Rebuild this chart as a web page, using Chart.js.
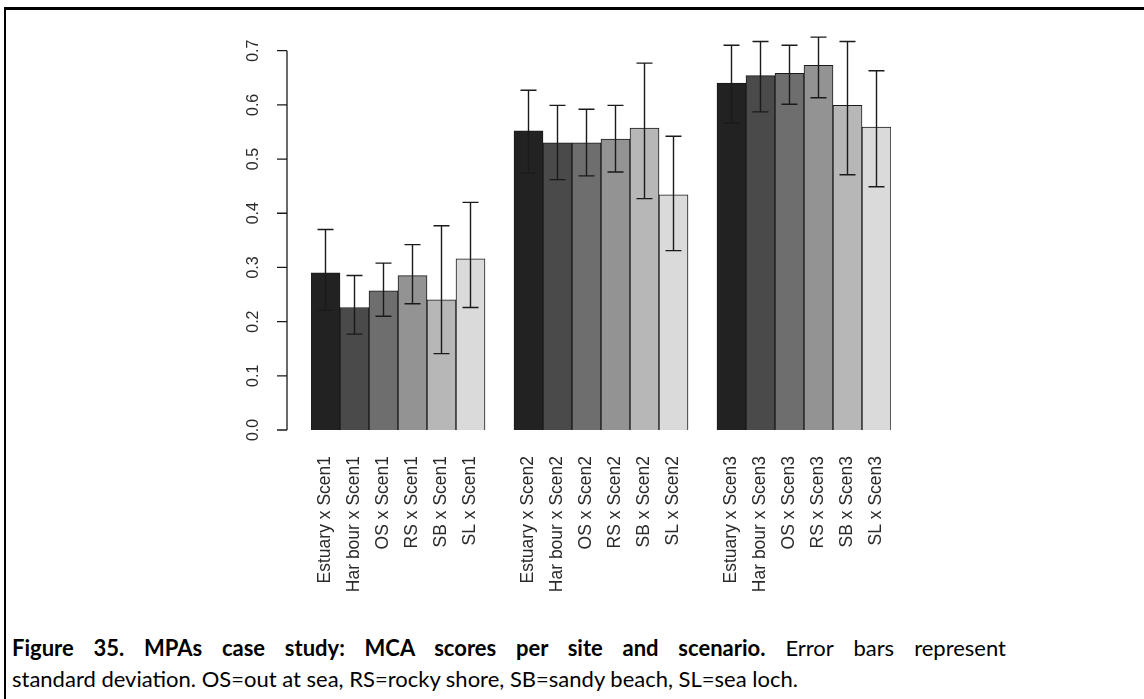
<!DOCTYPE html>
<html>
<head>
<meta charset="utf-8">
<script src="https://cdn.jsdelivr.net/npm/chart.js@4"></script>
<style>
  html, body { margin: 0; padding: 0; background: #fff; overflow: hidden; }
  body { width: 1144px; height: 699px; position: relative; }
  #topline { position: absolute; left: 4px; top: 7px; width: 1140px; height: 3px; background: #000; }
  #leftline { position: absolute; left: 4px; top: 7px; width: 2px; height: 692px; background: #000; }
  #wrap { position: absolute; left: 0; top: 0; width: 1144px; height: 620px; }
  #caption { position: absolute; left: 12px; top: 632px; width: 994px; font-family: Lato, "Open Sans", sans-serif;
             font-size: 22px; line-height: 31px; color: #000; }
  #line1 { text-align: justify; text-align-last: justify; white-space: nowrap; }
  #line2 { white-space: nowrap; }
</style>
</head>
<body>
<div id="topline"></div>
<div id="leftline"></div>
<div id="wrap"><canvas id="c" width="1144" height="620"></canvas></div>
<div id="caption">
  <div id="line1"><b>Figure 35. MPAs case study: MCA scores per site and scenario.</b> Error bars represent</div>
  <div id="line2">standard deviation. OS=out at sea, RS=rocky shore, SB=sandy beach, SL=sea loch.</div>
</div>
<script>
// sites and scenarios
const sites = ['Estuary', 'Har bour', 'OS', 'RS', 'SB', 'SL'];
const scenarios = ['Scen1', 'Scen2', 'Scen3'];

// mean MCA score per site, one array per scenario
const meanScen1 = [0.290, 0.226, 0.257, 0.285, 0.240, 0.316];
const meanScen2 = [0.552, 0.530, 0.530, 0.537, 0.557, 0.434];
const meanScen3 = [0.640, 0.654, 0.658, 0.673, 0.599, 0.559];

// error bar ends (mean - sd, mean + sd)
const lowScen1 = [0.221, 0.177, 0.210, 0.233, 0.141, 0.226];
const highScen1 = [0.370, 0.285, 0.308, 0.342, 0.377, 0.420];
const lowScen2 = [0.474, 0.462, 0.469, 0.476, 0.427, 0.331];
const highScen2 = [0.627, 0.599, 0.592, 0.599, 0.677, 0.542];
const lowScen3 = [0.566, 0.587, 0.601, 0.613, 0.471, 0.449];
const highScen3 = [0.710, 0.717, 0.710, 0.725, 0.717, 0.663];

const yTicks = [0, 0.1, 0.2, 0.3, 0.4, 0.5, 0.6, 0.7];

const greys = ['#222222', '#4a4a4a', '#6e6e6e', '#939393', '#b7b7b7', '#dadada'];

// flatten into one bar series, with an empty slot between scenarios
const means = [meanScen1, meanScen2, meanScen3];
const lows = [lowScen1, lowScen2, lowScen3];
const highs = [highScen1, highScen2, highScen3];
const labels = [], values = [], low = [], high = [], colors = [];
scenarios.forEach((s, g) => {
  if (g > 0) { labels.push(''); values.push(null); low.push(null); high.push(null); colors.push('#fff'); }
  sites.forEach((site, i) => {
    labels.push(site + ' x ' + s);
    values.push(means[g][i]);
    low.push(lows[g][i]);
    high.push(highs[g][i]);
    colors.push(greys[i]);
  });
});

const FONT = '"Liberation Sans", Arial, sans-serif';

// error bars with caps
const errorBars = {
  id: 'errorBars',
  afterDatasetsDraw(chart) {
    const ctx = chart.ctx, x = chart.scales.x, y = chart.scales.y;
    ctx.save();
    ctx.strokeStyle = '#1a1a1a';
    ctx.lineWidth = 1.4;
    low.forEach((lo, i) => {
      if (lo == null) return;
      const px = x.getPixelForValue(i);
      const y1 = y.getPixelForValue(lo), y2 = y.getPixelForValue(high[i]);
      ctx.beginPath();
      ctx.moveTo(px, y1); ctx.lineTo(px, y2);
      ctx.moveTo(px - 8, y1); ctx.lineTo(px + 8, y1);
      ctx.moveTo(px - 8, y2); ctx.lineTo(px + 8, y2);
      ctx.stroke();
    });
    ctx.restore();
  }
};

// R style left axis: line only over the tick range, rotated labels
const rAxis = {
  id: 'rAxis',
  afterDraw(chart) {
    const ctx = chart.ctx, y = chart.scales.y;
    const ax = chart.chartArea.left - 24;
    const ticks = y.ticks.map(t => t.value);
    ctx.save();
    ctx.strokeStyle = '#1a1a1a';
    ctx.lineWidth = 1.3;
    ctx.beginPath();
    ctx.moveTo(ax, y.getPixelForValue(ticks[0]));
    ctx.lineTo(ax, y.getPixelForValue(ticks[ticks.length - 1]));
    ticks.forEach(v => {
      const py = y.getPixelForValue(v);
      ctx.moveTo(ax, py); ctx.lineTo(ax - 10, py);
    });
    ctx.stroke();
    ctx.fillStyle = '#2a2a2a';
    ctx.font = '16px ' + FONT;
    ctx.textAlign = 'center';
    ctx.textBaseline = 'middle';
    ticks.forEach(v => {
      ctx.save();
      ctx.translate(ax - 33, y.getPixelForValue(v));
      ctx.rotate(-Math.PI / 2);
      ctx.fillText(v.toFixed(1), 0, 0);
      ctx.restore();
    });
    ctx.restore();
  }
};

new Chart(document.getElementById('c'), {
  type: 'bar',
  data: {
    labels,
    datasets: [{
      data: values,
      backgroundColor: colors,
      borderColor: '#1a1a1a',
      borderWidth: 1,
      barPercentage: 1,
      categoryPercentage: 1,
    }],
  },
  options: {
    responsive: false,
    animation: false,
    devicePixelRatio: 1,
    layout: { padding: { top: 29, right: 253, bottom: 0, left: 0 } },
    plugins: { legend: { display: false }, tooltip: { enabled: false } },
    scales: {
      x: {
        grid: { display: false, drawTicks: false },
        border: { display: false },
        ticks: {
          autoSkip: false, minRotation: 90, maxRotation: 90, padding: 26,
          color: '#2a2a2a', font: { family: FONT, size: 17.5 },
        },
        afterFit: (s) => { s.height = 190; },
      },
      y: {
        min: 0, max: 0.74,
        grid: { display: false },
        border: { display: false },
        ticks: { display: false, stepSize: 0.1 },
        afterBuildTicks: (s) => { s.ticks = yTicks.map(v => ({ value: v })); },
        afterFit: (s) => { s.width = 311; },
      },
    },
  },
  plugins: [errorBars, rAxis],
});
</script>
</body>
</html>
